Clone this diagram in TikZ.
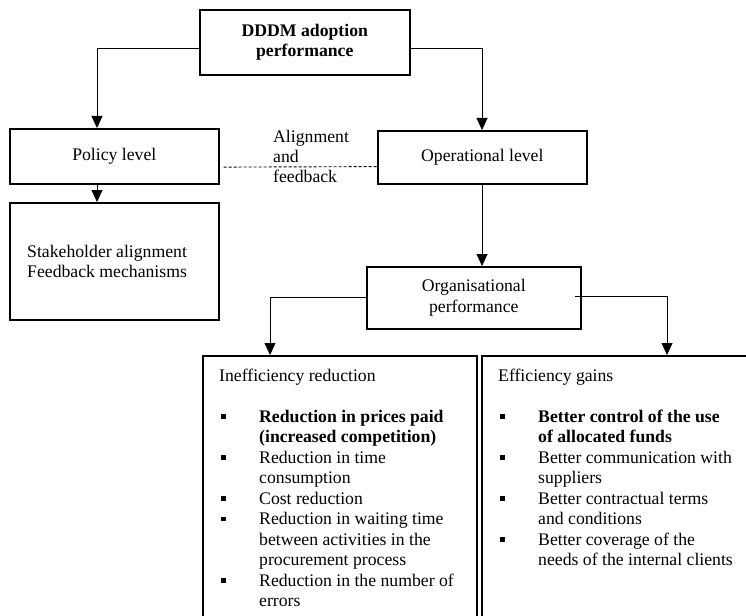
\documentclass[tikz,border=0pt]{standalone}
\usepackage{fontspec}
\setmainfont{Liberation Serif}
\usetikzlibrary{arrows.meta}
% small square bullet, raised to sit mid x-height
\newcommand\bsq{\raisebox{3.5pt}{\rule{4.5pt}{4.5pt}}}
% first line of an item (bullet + hanging indent) and its continuation lines
\newcommand\bitem{\makebox[40pt][l]{\hspace{2pt}\bsq}}
\newcommand\bcont{\hspace*{40pt}}
% fixed-height strut so the first baseline sits 15pt below the node top
\newcommand\firststrut{\rule{0pt}{15pt}}
\begin{document}
\begin{tikzpicture}[x=1pt,y=-1pt,
  font=\fontsize{17.7}{20.5}\selectfont,
  box/.style={draw,line width=1.6pt,inner sep=0pt,anchor=north west,align=center},
  conn/.style={line width=0.9pt,-{Triangle[width=11pt,length=12pt]}},
  plain/.style={line width=0.9pt},
  txt/.style={inner sep=0pt,anchor=north west,align=left}]
\useasboundingbox (0,0) rectangle (746,615);
\clip (0,0) rectangle (746,615);

% boxes
\node[box,minimum width=210pt,minimum height=65pt] (top) at (199,9)
  {\textbf{DDDM adoption}\\\textbf{performance}};
\node[box,minimum width=209pt,minimum height=55pt] (policy) at (9,128) {Policy level};
\node[box,minimum width=209pt,minimum height=53pt] (op) at (377,130) {Operational level};
\node[box,minimum width=209pt,minimum height=117pt] (stake) at (9,202) {};
\node[box,minimum width=214pt,minimum height=62pt] (org) at (366,266)
  {Organisational\\performance};
\node[box,minimum width=274pt,minimum height=300pt] (ineff) at (202,355) {};
\node[box,minimum width=274pt,minimum height=300pt] (eff) at (481,355) {};

% free texts
\node[txt] (stakeText) at (27,242)
  {\firststrut Stakeholder alignment\\Feedback mechanisms};
\node[txt,font=\fontsize{17.7}{20}\selectfont] (alignText) at (273,127)
  {\firststrut Alignment\\and\\feedback};

\node[txt] (ineffText) at (219,366)
  {\firststrut Inefficiency reduction\\
   \mbox{}\\
   \bitem\textbf{Reduction in prices paid}\\
   \bcont\textbf{(increased competition)}\\
   \bitem Reduction in time\\
   \bcont consumption\\
   \bitem Cost reduction\\
   \bitem Reduction in waiting time\\
   \bcont between activities in the\\
   \bcont procurement process\\
   \bitem Reduction in the number of\\
   \bcont errors};

\node[txt] (effText) at (498,366)
  {\firststrut Efficiency gains\\
   \mbox{}\\
   \bitem\textbf{Better control of the use}\\
   \bcont\textbf{of allocated funds}\\
   \bitem Better communication with\\
   \bcont suppliers\\
   \bitem Better contractual terms\\
   \bcont and conditions\\
   \bitem Better coverage of the\\
   \bcont needs of the internal clients};

% connectors
\draw[conn] ([yshift=-39pt]top.north west) -| ([xshift=88pt]policy.north west);
\draw[conn] ([yshift=-39pt]top.north east) -| ([xshift=105pt]op.north west);
\draw[conn] ([xshift=88pt]policy.south west) -- ([xshift=88pt]stake.north west);
\draw[line width=0.9pt,dashed,dash pattern=on 3pt off 2pt]
  ([xshift=4pt,yshift=17.5pt]policy.south east) -- ([yshift=18pt]op.south west);
\draw[conn] ([xshift=105pt]op.south west) -- ([xshift=116pt]org.north west);
\draw[conn] ([yshift=-31pt]org.north west) -| ([xshift=68pt]ineff.north west);
\draw[conn] ([xshift=-7pt,yshift=-30pt]org.north east) -| ([xshift=186pt]eff.north west);
\end{tikzpicture}
\end{document}
